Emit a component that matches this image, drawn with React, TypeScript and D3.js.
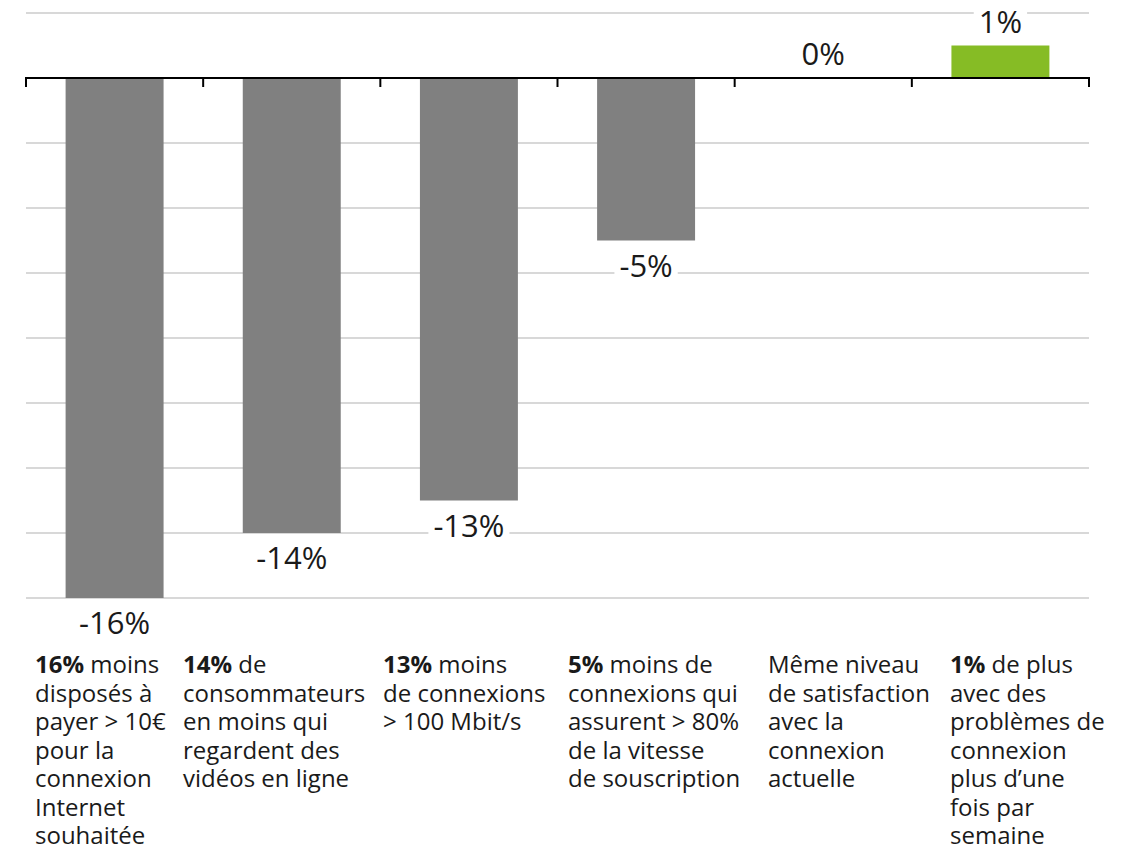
import React, { useEffect, useRef } from 'react';
import * as d3 from 'd3';

// values (% change)
const categories = ['pay10', 'videos', 'conn100', 'speed80', 'satisf', 'problems'];
const values = [-16, -14, -13, -5, 0, 1];
const valueLabels = ['-16%', '-14%', '-13%', '-5%', '0%', '1%'];
const boldPrefix = ['16%', '14%', '13%', '5%', '', '1%'];
const labelLines = [
  [' moins', 'disposés à', 'payer > 10€', 'pour la', 'connexion', 'Internet', 'souhaitée'],
  [' de', 'consommateurs', 'en moins qui', 'regardent des', 'vidéos en ligne'],
  [' moins', 'de connexions', '> 100 Mbit/s'],
  [' moins de', 'connexions qui', 'assurent > 80%', 'de la vitesse', 'de souscription'],
  ['Même niveau', 'de satisfaction', 'avec la', 'connexion', 'actuelle'],
  [' de plus', 'avec des', 'problèmes de', 'connexion', 'plus d’une', 'fois par', 'semaine'],
];
const yTicks = [-16, -14, -12, -10, -8, -6, -4, -2, 0, 2];
// left edge of each text block under the bars
const labelX = [35, 183, 383, 568, 768, 950];

const W = 1132, H = 849;
const FONT = '"Open Sans", "Noto Sans", sans-serif';

export default function App() {
  const ref = useRef<SVGSVGElement>(null);

  useEffect(() => {
    const svg = d3.select(ref.current);
    svg.selectAll('*').remove();

    const x = d3.scaleBand().domain(categories).range([26, 1089]).padding(0);
    const y = d3.scaleLinear().domain([-16, 2]).range([598, 13]);
    const barW = x.bandwidth() * 0.553;

    // gridlines
    svg.append('g')
      .selectAll('line')
      .data(yTicks.filter(d => d !== 0))
      .enter().append('line')
      .attr('x1', 26).attr('x2', 1089)
      .attr('y1', d => y(d)).attr('y2', d => y(d))
      .attr('stroke', '#cbcbcb')
      .attr('stroke-width', 1.3);

    // bars
    svg.append('g')
      .selectAll('rect')
      .data(values)
      .enter().append('rect')
      .attr('x', (d, i) => x(categories[i])! + (x.bandwidth() - barW) / 2)
      .attr('width', barW)
      .attr('y', d => y(Math.max(0, d)))
      .attr('height', d => Math.abs(y(d) - y(0)))
      .attr('fill', d => (d > 0 ? '#86bc25' : '#808080'));

    // axis line + ticks
    const axis = svg.append('g');
    axis.append('line')
      .attr('x1', 26).attr('x2', 1089)
      .attr('y1', y(0)).attr('y2', y(0))
      .attr('stroke', '#000').attr('stroke-width', 2);
    const bounds = categories.map(c => x(c)!).concat([1089]);
    axis.selectAll('line.tick')
      .data(bounds)
      .enter().append('line')
      .attr('class', 'tick')
      .attr('x1', d => d).attr('x2', d => d)
      .attr('y1', y(0) - 1).attr('y2', y(0) + 9)
      .attr('stroke', '#000').attr('stroke-width', 2);

    // value labels with white boxes behind them
    const vl = svg.append('g');
    values.forEach((v, i) => {
      const cx = x(categories[i])! + x.bandwidth() / 2;
      const by = v < 0 ? y(v) + 36 : y(v) - 13;
      const g = vl.append('g');
      const t = g.append('text')
        .attr('x', cx).attr('y', by)
        .attr('text-anchor', 'middle')
        .attr('font-family', FONT)
        .attr('font-size', 31)
        .attr('fill', '#1a1a1a')
        .text(valueLabels[i]);
      const bb = (t.node() as SVGTextElement).getBBox();
      g.insert('rect', 'text')
        .attr('x', bb.x - 5).attr('y', bb.y + 3)
        .attr('width', bb.width + 10).attr('height', bb.height - 6)
        .attr('fill', '#fff');
    });

    // category labels, one text per line
    const cl = svg.append('g')
      .attr('font-family', FONT)
      .attr('font-size', 24)
      .attr('fill', '#1a1a1a');
    labelLines.forEach((lines, i) => {
      lines.forEach((ln, j) => {
        const t = cl.append('text')
          .attr('x', labelX[i])
          .attr('y', 673 + j * 28.5);
        if (j === 0 && boldPrefix[i]) {
          t.append('tspan').attr('font-weight', 700).text(boldPrefix[i]);
          t.append('tspan').text(ln);
        } else {
          t.text(ln);
        }
      });
    });
  }, []);

  return (
    <svg
      ref={ref}
      width={W}
      height={H}
      style={{ position: 'absolute', left: 0, top: 0, background: '#fff' }}
    />
  );
}
